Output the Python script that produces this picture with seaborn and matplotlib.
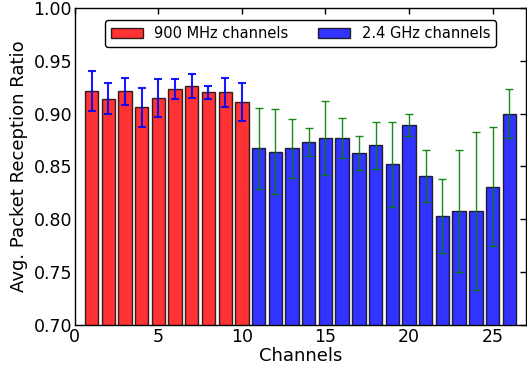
import numpy as np
import pandas as pd
import matplotlib
matplotlib.use("Agg")
import matplotlib.pyplot as plt
import seaborn as sns

# Per-channel packet reception ratio (mean and spread)
channels = list(range(1, 27))
prr_mean = [0.921, 0.914, 0.921, 0.906, 0.915, 0.923, 0.926, 0.920, 0.920, 0.911,
            0.867, 0.864, 0.867, 0.873, 0.877, 0.877, 0.863, 0.870, 0.852, 0.889,
            0.841, 0.803, 0.808, 0.808, 0.831, 0.900]
prr_err = [0.019, 0.0145, 0.013, 0.0185, 0.018, 0.0095, 0.011, 0.006, 0.014, 0.018,
           0.038, 0.040, 0.028, 0.013, 0.035, 0.019, 0.016, 0.022, 0.040, 0.0105,
           0.025, 0.035, 0.058, 0.075, 0.056, 0.023]
bands = ["900 MHz channels"] * 10 + ["2.4 GHz channels"] * 16

df = pd.DataFrame({"channel": channels, "prr": prr_mean, "err": prr_err, "band": bands})

sns.set_style("white")
plt.rcParams["font.family"] = ["DejaVu Sans"]
plt.rcParams["xtick.direction"] = "in"
plt.rcParams["ytick.direction"] = "in"
plt.rcParams["text.color"] = "black"
plt.rcParams["axes.labelcolor"] = "black"
plt.rcParams["xtick.color"] = "black"
plt.rcParams["ytick.color"] = "black"

fig = plt.figure(figsize=(5.27, 3.77), dpi=100)
ax = fig.add_axes([0.142, 0.138, 0.856, 0.841])

palette = {"900 MHz channels": "red", "2.4 GHz channels": "blue"}
sns.barplot(data=df, x="channel", y="prr", hue="band", palette=palette,
            native_scale=True, dodge=False, width=0.8, alpha=0.8, saturation=1,
            edgecolor="black", linewidth=1.0, errorbar=None, ax=ax)

# Error bars: blue over the 900 MHz bars, green over the 2.4 GHz bars
for band, ecol, lw in [("900 MHz channels", "blue", 1.5), ("2.4 GHz channels", "green", 1.0)]:
    sub = df[df["band"] == band]
    ax.errorbar(sub["channel"], sub["prr"], yerr=sub["err"], fmt="none",
                ecolor=ecol, elinewidth=lw, capsize=2.6, capthick=lw, alpha=0.9, zorder=3)

ax.set_xlim(0, 27)
ax.set_ylim(0.70, 1.00)
ax.set_xticks([0, 5, 10, 15, 20, 25])
ax.set_yticks(np.arange(0.70, 1.001, 0.05))
ax.yaxis.set_major_formatter(matplotlib.ticker.FormatStrFormatter("%.2f"))
ax.tick_params(axis="both", which="both", top=True, right=True, labelsize=12.5,
               length=4, width=1, pad=2, colors="black")
for s in ax.spines.values():
    s.set_linewidth(1.0)
    s.set_color("black")

ax.set_xlabel("Channels", fontsize=13, labelpad=1)
ax.set_ylabel("Avg. Packet Reception Ratio", fontsize=13, labelpad=4)

handles, labels = ax.get_legend_handles_labels()
leg = ax.legend(handles, labels, loc="upper center", ncol=2, fontsize=10.5,
                frameon=True, fancybox=True, edgecolor="black", framealpha=1,
                bbox_to_anchor=(0.5, 0.985), columnspacing=2.0, handlelength=2.2,
                borderpad=0.4)
for t in leg.get_texts():
    t.set_color("black")

fig.savefig("out.png", dpi=100, facecolor="white")
